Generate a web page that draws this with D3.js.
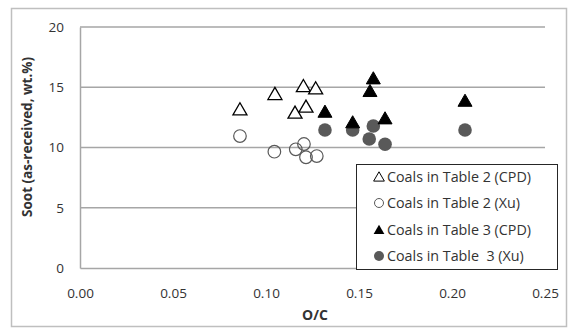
<!DOCTYPE html>
<html>
<head>
<meta charset="utf-8">
<script src="https://cdn.jsdelivr.net/npm/d3@7"></script>
<style>
  body { margin: 0; background: #fff; }
  svg { display: block; font-family: "Open Sans", "Liberation Sans", sans-serif; }
</style>
</head>
<body>
<script>
// data (O/C, soot wt.%)
const t2cpdX = [0.0860, 0.1048, 0.1201, 0.1267, 0.1156, 0.1215]
const t2cpdY = [13.17, 14.44, 15.10, 14.91, 12.89, 13.39]
const t2xuX = [0.0860, 0.1045, 0.1160, 0.1204, 0.1215, 0.1273]
const t2xuY = [10.95, 9.65, 9.85, 10.29, 9.19, 9.29]
const t3cpdX = [0.1317, 0.1466, 0.1577, 0.1559, 0.1640, 0.2070]
const t3cpdY = [12.97, 12.09, 15.74, 14.69, 12.42, 13.88]
const t3xuX = [0.1317, 0.1466, 0.1577, 0.1555, 0.1640, 0.2070]
const t3xuY = [11.45, 11.45, 11.78, 10.71, 10.27, 11.45]
const xTicks = [0, 0.05, 0.10, 0.15, 0.20, 0.25]
const yTicks = [0, 5, 10, 15, 20]
const seriesNames = ['Coals in Table 2 (CPD)', 'Coals in Table 2 (Xu)', 'Coals in Table 3 (CPD)', 'Coals in Table  3 (Xu)']

const W = 574, H = 328
const plot = {left: 80, right: 545, top: 27, bottom: 268}

const svg = d3.select('body').append('svg').attr('width', W).attr('height', H)

// chart border
svg.append('rect').attr('x', 11.5).attr('y', 8.5).attr('width', 555).attr('height', 318)
   .attr('fill', '#fff').attr('stroke', '#bfbfbf').attr('stroke-width', 1.5)

const x = d3.scaleLinear().domain([0, 0.25]).range([plot.left, plot.right])
const y = d3.scaleLinear().domain([0, 20]).range([plot.bottom, plot.top])

// gridlines
svg.append('g').selectAll('line').data(yTicks.filter(d => d > 0)).enter().append('line')
   .attr('x1', plot.left).attr('x2', plot.right)
   .attr('y1', d => y(d)).attr('y2', d => y(d))
   .attr('stroke', '#a6a6a6').attr('stroke-width', 1.5)

// axes
const yAxis = d3.axisLeft(y).tickValues(yTicks).tickSize(0).tickPadding(16).tickFormat(d3.format('d'))
const gy = svg.append('g').attr('transform', `translate(${plot.left},0)`).call(yAxis)
const xAxis = d3.axisBottom(x).tickValues(xTicks).tickSize(0).tickPadding(20).tickFormat(d3.format('.2f'))
const gx = svg.append('g').attr('transform', `translate(0,${plot.bottom})`).call(xAxis)
;[gx, gy].forEach(g => {
  g.select('.domain').attr('stroke', '#a6a6a6').attr('stroke-width', 1.5)
  g.selectAll('text').attr('font-size', 13.5).attr('fill', '#333')
    .attr('font-family', '"Open Sans", sans-serif')
})

// axis titles
svg.append('text').attr('x', 315).attr('y', 320).attr('text-anchor', 'middle')
   .attr('font-size', 14).attr('font-weight', 'bold').attr('fill', '#333').text('O/C')
svg.append('text').attr('transform', 'translate(32,137) rotate(-90)').attr('text-anchor', 'middle')
   .attr('font-size', 13.5).attr('font-weight', 'bold').attr('fill', '#333').text('Soot (as-received, wt.%)')

const tri = d3.symbol().type(d3.symbolTriangle).size(85)
const triSmall = d3.symbol().type(d3.symbolTriangle).size(50)

const zip = (xs, ys) => xs.map((v, i) => ({x: v, y: ys[i]}))

// open triangles
svg.append('g').selectAll('path').data(zip(t2cpdX, t2cpdY)).enter().append('path')
   .attr('d', tri).attr('transform', d => `translate(${x(d.x)},${y(d.y) + 1.5})`)
   .attr('fill', '#fff').attr('stroke', '#000').attr('stroke-width', 1.3)
// open circles
svg.append('g').selectAll('circle').data(zip(t2xuX, t2xuY)).enter().append('circle')
   .attr('cx', d => x(d.x)).attr('cy', d => y(d.y)).attr('r', 6.3)
   .attr('fill', 'none').attr('stroke', '#595959').attr('stroke-width', 1.2)
// filled circles
svg.append('g').selectAll('circle').data(zip(t3xuX, t3xuY)).enter().append('circle')
   .attr('cx', d => x(d.x)).attr('cy', d => y(d.y)).attr('r', 6.8)
   .attr('fill', '#595959')
// filled triangles
svg.append('g').selectAll('path').data(zip(t3cpdX, t3cpdY)).enter().append('path')
   .attr('d', tri).attr('transform', d => `translate(${x(d.x)},${y(d.y) + 1.5})`)
   .attr('fill', '#000').attr('stroke', '#000').attr('stroke-width', 1)

// legend
const lg = svg.append('g')
lg.append('rect').attr('x', 356.5).attr('y', 164.5).attr('width', 201).attr('height', 105)
  .attr('fill', '#fff').attr('stroke', '#262626').attr('stroke-width', 1)
const rowY = [177, 203, 230, 256]
seriesNames.forEach((name, i) => {
  const cy = rowY[i]
  if (i === 0) lg.append('path').attr('d', triSmall).attr('transform', `translate(379,${cy + 1})`)
                 .attr('fill', '#fff').attr('stroke', '#000').attr('stroke-width', 1)
  if (i === 1) lg.append('circle').attr('cx', 379).attr('cy', cy).attr('r', 4.5)
                 .attr('fill', 'none').attr('stroke', '#595959').attr('stroke-width', 1)
  if (i === 2) lg.append('path').attr('d', triSmall).attr('transform', `translate(379,${cy + 1})`)
                 .attr('fill', '#000')
  if (i === 3) lg.append('circle').attr('cx', 379).attr('cy', cy).attr('r', 5).attr('fill', '#595959')
  lg.append('text').attr('x', 387).attr('y', cy + 5).attr('font-size', 14.3).attr('fill', '#333')
    .attr('xml:space', 'preserve').style('white-space', 'pre').text(name)
})
</script>
</body>
</html>
